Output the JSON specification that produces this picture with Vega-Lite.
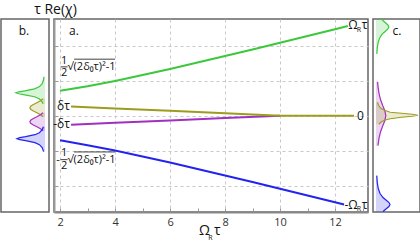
{
  "$schema": "https://vega.github.io/schema/vega-lite/v6.json",
  "padding": {"left": 0, "right": 0, "top": 2, "bottom": 0},
  "spacing": 5,
  "bounds": "flush",
  "config": {
    "font": "Open Sans",
    "view": {"stroke": "#666", "strokeWidth": 1.5},
    "text": {"color": "#111"}
  },
  "datasets": {
    "lines": [
      {"series": "green", "x": 2, "y": 0.715}, {"series": "green", "x": 3, "y": 0.844}, {"series": "green", "x": 4, "y": 0.997},
      {"series": "green", "x": 5, "y": 1.165}, {"series": "green", "x": 6, "y": 1.341}, {"series": "green", "x": 7, "y": 1.524},
      {"series": "green", "x": 8, "y": 1.711}, {"series": "green", "x": 9, "y": 1.9}, {"series": "green", "x": 10, "y": 2.092},
      {"series": "green", "x": 11, "y": 2.285}, {"series": "green", "x": 12, "y": 2.479}, {"series": "green", "x": 12.47, "y": 2.571},
      {"series": "blue", "x": 2, "y": -0.7}, {"series": "blue", "x": 3, "y": -0.844}, {"series": "blue", "x": 4, "y": -0.997},
      {"series": "blue", "x": 5, "y": -1.165}, {"series": "blue", "x": 6, "y": -1.341}, {"series": "blue", "x": 7, "y": -1.524},
      {"series": "blue", "x": 8, "y": -1.711}, {"series": "blue", "x": 9, "y": -1.9}, {"series": "blue", "x": 10, "y": -2.092},
      {"series": "blue", "x": 11, "y": -2.285}, {"series": "blue", "x": 12, "y": -2.479}, {"series": "blue", "x": 12.33, "y": -2.543},
      {"series": "magenta", "x": 2.4, "y": -0.257}, {"series": "magenta", "x": 4, "y": -0.203}, {"series": "magenta", "x": 6, "y": -0.135},
      {"series": "magenta", "x": 8, "y": -0.068}, {"series": "magenta", "x": 10, "y": 0},
      {"series": "olive", "x": 2.4, "y": 0.266}, {"series": "olive", "x": 4, "y": 0.21}, {"series": "olive", "x": 6, "y": 0.14},
      {"series": "olive", "x": 8, "y": 0.07}, {"series": "olive", "x": 10, "y": 0}, {"series": "olive", "x": 12.69, "y": 0}
    ],
    "dens_b": [
      {"series": "green", "y": 1.114, "d": 0.035}, {"series": "green", "y": 1.0, "d": 0.061}, {"series": "green", "y": 0.914, "d": 0.104},
      {"series": "green", "y": 0.829, "d": 0.208}, {"series": "green", "y": 0.771, "d": 0.374}, {"series": "green", "y": 0.714, "d": 0.72},
      {"series": "green", "y": 0.686, "d": 0.936}, {"series": "green", "y": 0.657, "d": 1.04}, {"series": "green", "y": 0.629, "d": 0.936},
      {"series": "green", "y": 0.6, "d": 0.72}, {"series": "green", "y": 0.543, "d": 0.374}, {"series": "green", "y": 0.486, "d": 0.208},
      {"series": "green", "y": 0.4, "d": 0.104}, {"series": "green", "y": 0.343, "d": 0.072},
      {"series": "olive", "y": 0.486, "d": 0.073}, {"series": "olive", "y": 0.429, "d": 0.161}, {"series": "olive", "y": 0.371, "d": 0.291},
      {"series": "olive", "y": 0.314, "d": 0.432}, {"series": "olive", "y": 0.271, "d": 0.511}, {"series": "olive", "y": 0.229, "d": 0.54},
      {"series": "olive", "y": 0.186, "d": 0.511}, {"series": "olive", "y": 0.143, "d": 0.432}, {"series": "olive", "y": 0.086, "d": 0.291},
      {"series": "olive", "y": 0.029, "d": 0.161}, {"series": "olive", "y": -0.029, "d": 0.073},
      {"series": "magenta", "y": 0.086, "d": 0.073}, {"series": "magenta", "y": 0.029, "d": 0.161}, {"series": "magenta", "y": -0.029, "d": 0.291},
      {"series": "magenta", "y": -0.086, "d": 0.432}, {"series": "magenta", "y": -0.129, "d": 0.511}, {"series": "magenta", "y": -0.171, "d": 0.54},
      {"series": "magenta", "y": -0.214, "d": 0.511}, {"series": "magenta", "y": -0.257, "d": 0.432}, {"series": "magenta", "y": -0.314, "d": 0.291},
      {"series": "magenta", "y": -0.371, "d": 0.161}, {"series": "magenta", "y": -0.429, "d": 0.073},
      {"series": "blue", "y": -0.314, "d": 0.059}, {"series": "blue", "y": -0.4, "d": 0.1}, {"series": "blue", "y": -0.486, "d": 0.2},
      {"series": "blue", "y": -0.543, "d": 0.36}, {"series": "blue", "y": -0.6, "d": 0.692}, {"series": "blue", "y": -0.629, "d": 0.9},
      {"series": "blue", "y": -0.657, "d": 1.0}, {"series": "blue", "y": -0.686, "d": 0.9}, {"series": "blue", "y": -0.714, "d": 0.692},
      {"series": "blue", "y": -0.771, "d": 0.36}, {"series": "blue", "y": -0.829, "d": 0.2}, {"series": "blue", "y": -0.914, "d": 0.1},
      {"series": "blue", "y": -1.029, "d": 0.05}
    ],
    "dens_c": [
      {"series": "green", "y": 2.771, "d": 0.2}, {"series": "green", "y": 2.714, "d": 0.265},
      {"series": "green", "y": 2.657, "d": 0.347}, {"series": "green", "y": 2.6, "d": 0.425}, {"series": "green", "y": 2.543, "d": 0.46},
      {"series": "green", "y": 2.486, "d": 0.425}, {"series": "green", "y": 2.429, "d": 0.347}, {"series": "green", "y": 2.371, "d": 0.265},
      {"series": "green", "y": 2.314, "d": 0.2}, {"series": "green", "y": 2.229, "d": 0.133}, {"series": "green", "y": 2.114, "d": 0.082},
      {"series": "green", "y": 1.971, "d": 0.05}, {"series": "green", "y": 1.771, "d": 0.029},
      {"series": "magenta", "y": 0.971, "d": 0.057}, {"series": "magenta", "y": 0.8, "d": 0.078}, {"series": "magenta", "y": 0.629, "d": 0.111},
      {"series": "magenta", "y": 0.457, "d": 0.164}, {"series": "magenta", "y": 0.286, "d": 0.242}, {"series": "magenta", "y": 0.143, "d": 0.315},
      {"series": "magenta", "y": 0, "d": 0.35}, {"series": "magenta", "y": -0.143, "d": 0.315}, {"series": "magenta", "y": -0.286, "d": 0.242},
      {"series": "magenta", "y": -0.457, "d": 0.164}, {"series": "magenta", "y": -0.629, "d": 0.111}, {"series": "magenta", "y": -0.857, "d": 0.07},
      {"series": "olive", "y": 0.386, "d": 0.053}, {"series": "olive", "y": 0.3, "d": 0.088}, {"series": "olive", "y": 0.214, "d": 0.17},
      {"series": "olive", "y": 0.157, "d": 0.3}, {"series": "olive", "y": 0.1, "d": 0.507}, {"series": "olive", "y": 0.071, "d": 0.915},
      {"series": "olive", "y": 0.043, "d": 1.293}, {"series": "olive", "y": 0.014, "d": 1.5}, {"series": "olive", "y": -0.014, "d": 1.293},
      {"series": "olive", "y": -0.043, "d": 0.915}, {"series": "olive", "y": -0.086, "d": 0.507}, {"series": "olive", "y": -0.129, "d": 0.3},
      {"series": "olive", "y": -0.186, "d": 0.17}, {"series": "olive", "y": -0.243, "d": 0.107},
      {"series": "blue", "y": -1.714, "d": 0.028}, {"series": "blue", "y": -1.914, "d": 0.046}, {"series": "blue", "y": -2.086, "d": 0.08},
      {"series": "blue", "y": -2.229, "d": 0.144}, {"series": "blue", "y": -2.343, "d": 0.25}, {"series": "blue", "y": -2.429, "d": 0.377},
      {"series": "blue", "y": -2.486, "d": 0.462}, {"series": "blue", "y": -2.543, "d": 0.5}, {"series": "blue", "y": -2.6, "d": 0.462},
      {"series": "blue", "y": -2.657, "d": 0.377}, {"series": "blue", "y": -2.743, "d": 0.25}
    ]
  },
  "hconcat": [
    {
      "width": 48, "height": 193,
      "data": {"name": "dens_b"},
      "layer": [
        {
          "mark": {"type": "area", "orient": "horizontal", "fillOpacity": 0.2},
          "encoding": {
            "y": {"field": "y", "type": "quantitative", "scale": {"domain": [-2.757, 2.771], "nice": false, "zero": false}, "axis": null},
            "x": {"field": "d", "type": "quantitative", "stack": null, "scale": {"domain": [-0.143, 1.571], "nice": false, "reverse": true}, "axis": null},
            "x2": {"datum": 0},
            "fill": {"field": "series", "type": "nominal", "legend": null, "scale": {"domain": ["green", "olive", "magenta", "blue"], "range": ["#3cc83c", "#9c9c1e", "#a030c0", "#2323f0"]}}
          }
        },
        {
          "mark": {"type": "line", "strokeWidth": 1.2, "clip": true},
          "encoding": {
            "y": {"field": "y", "type": "quantitative"},
            "x": {"field": "d", "type": "quantitative"},
            "color": {"field": "series", "type": "nominal", "legend": null, "scale": {"domain": ["green", "olive", "magenta", "blue"], "range": ["#3cc83c", "#9c9c1e", "#a030c0", "#2323f0"]}},
            "order": {"field": "y", "type": "quantitative"}
          }
        },
        {
          "data": {"values": [{"label": "b.", "d": 0.75, "y": 2.43}]},
          "mark": {"type": "text", "fontSize": 12, "color": "#111"},
          "encoding": {"text": {"field": "label"}, "x": {"field": "d", "type": "quantitative"}, "y": {"field": "y", "type": "quantitative"}}
        }
      ]
    },
    {
      "width": 314, "height": 193,
      "title": {"text": "τ Re(χ)", "anchor": "start", "dx": -19, "fontSize": 14, "fontWeight": "normal", "offset": 2, "color": "#111", "font": "Open Sans"},
      "encoding": {
        "x": {"field": "x", "type": "quantitative", "scale": {"domain": [1.78, 13.2], "nice": false, "zero": false},
          "axis": {"values": [2, 3, 4, 5, 6, 7, 8, 9, 10, 11, 12, 13],
            "labelExpr": "datum.value % 2 === 0 ? datum.label : ''",
            "grid": true, "gridDash": [3, 3], "gridColor": "#c8c8c8",
            "gridOpacity": {"condition": {"test": "datum.value % 2 === 0", "value": 1}, "value": 0},
            "tickSize": -4, "tickColor": "#999", "domainColor": "#888", "domainWidth": 2,
            "labelFontSize": 11, "labelColor": "#333", "labelPadding": 8,
            "title": null}},
        "y": {"field": "y", "type": "quantitative", "scale": {"domain": [-2.757, 2.771], "nice": false, "zero": false},
          "axis": {"values": [-2, -1, 0, 1, 2], "labels": false, "grid": true, "gridDash": [3, 3], "gridColor": "#c8c8c8",
            "tickSize": -4, "tickColor": "#999", "domainColor": "#999", "domainWidth": 2, "title": null}}
      },
      "layer": [
        {
          "data": {"name": "lines"},
          "mark": {"type": "line", "strokeWidth": 2},
          "encoding": {
            "color": {"field": "series", "type": "nominal", "legend": null, "scale": {"domain": ["green", "olive", "magenta", "blue"], "range": ["#3cc83c", "#9c9c1e", "#a030c0", "#2323f0"]}},
            "order": {"field": "x", "type": "quantitative"}
          }
        },
        {
          "data": {"values": [{"label": "δτ", "x": 2.36, "y": 0.27}, {"label": "-δτ", "x": 2.36, "y": -0.24}]},
          "mark": {"type": "text", "align": "right", "fontSize": 12},
          "encoding": {"text": {"field": "label"}}
        },
        {
          "data": {"values": [
            {"label": "0", "x": 12.8, "y": 0},
            {"label": "a.", "x": 2.33, "y": 2.43}
          ]},
          "mark": {"type": "text", "align": "left", "fontSize": 12},
          "encoding": {"text": {"field": "label"}}
        },
        {
          "data": {"values": [
            {"label": "Ω", "x": 12.65, "y": 2.6},
            {"label": "τ", "x": 13.08, "y": 2.6},
            {"label": "-", "x": 12.42, "y": -2.543},
            {"label": "Ω", "x": 12.65, "y": -2.543},
            {"label": "τ", "x": 13.08, "y": -2.543}
          ]},
          "mark": {"type": "text", "align": "center", "fontSize": 12},
          "encoding": {"text": {"field": "label"}}
        },
        {
          "data": {"values": [
            {"label": "R", "x": 12.87, "y": 2.45},
            {"label": "R", "x": 12.87, "y": -2.68},
            {"label": "R", "x": 7.47, "y": -3.5}
          ]},
          "mark": {"type": "text", "align": "center", "fontSize": 7},
          "encoding": {"text": {"field": "label"}}
        },
        {
          "data": {"values": [
            {"label": "Ω", "x": 7.25, "y": -3.29},
            {"label": "τ", "x": 7.72, "y": -3.29}
          ]},
          "mark": {"type": "text", "align": "center", "fontSize": 14},
          "encoding": {"text": {"field": "label"}}
        },
        {
          "data": {"values": [
            {"label": "√(2δ₀τ)²-1", "x": 2.273, "y": 1.4},
            {"label": "√(2δ₀τ)²-1", "x": 2.273, "y": -1.257}
          ]},
          "mark": {"type": "text", "align": "left", "fontSize": 11},
          "encoding": {"text": {"field": "label"}}
        },
        {
          "data": {"values": [
            {"label": "1", "x": 2.145, "y": 1.58},
            {"label": "2", "x": 2.145, "y": 1.22},
            {"label": "1", "x": 2.145, "y": -1.077},
            {"label": "2", "x": 2.145, "y": -1.437},
            {"label": "-", "x": 1.93, "y": -1.257}
          ]},
          "mark": {"type": "text", "align": "center", "fontSize": 11},
          "encoding": {"text": {"field": "label"}}
        },
        {
          "data": {"values": [
            {"x": 2.018, "x2": 2.273, "y": 1.4},
            {"x": 2.509, "x2": 4.0, "y": 1.62},
            {"x": 2.018, "x2": 2.273, "y": -1.257},
            {"x": 2.509, "x2": 4.0, "y": -1.037}
          ]},
          "mark": {"type": "rule", "strokeWidth": 0.8, "color": "#111"},
          "encoding": {"x2": {"field": "x2"}}
        }
      ]
    },
    {
      "width": 47, "height": 193,
      "data": {"name": "dens_c"},
      "layer": [
        {
          "mark": {"type": "area", "orient": "horizontal", "fillOpacity": 0.2},
          "encoding": {
            "y": {"field": "y", "type": "quantitative", "scale": {"domain": [-2.757, 2.771], "nice": false, "zero": false}, "axis": null},
            "x": {"field": "d", "type": "quantitative", "stack": null, "scale": {"domain": [-0.107, 1.571], "nice": false}, "axis": null},
            "x2": {"datum": 0},
            "fill": {"field": "series", "type": "nominal", "legend": null, "scale": {"domain": ["green", "magenta", "olive", "blue"], "range": ["#3cc83c", "#a030c0", "#9c9c1e", "#2323f0"]}}
          }
        },
        {
          "mark": {"type": "line", "strokeWidth": 1.2, "clip": true},
          "encoding": {
            "y": {"field": "y", "type": "quantitative"},
            "x": {"field": "d", "type": "quantitative"},
            "color": {"field": "series", "type": "nominal", "legend": null, "scale": {"domain": ["green", "magenta", "olive", "blue"], "range": ["#3cc83c", "#a030c0", "#9c9c1e", "#2323f0"]}},
            "order": {"field": "y", "type": "quantitative"}
          }
        },
        {
          "data": {"values": [{"label": "c.", "d": 0.75, "y": 2.43}]},
          "mark": {"type": "text", "fontSize": 12, "color": "#111"},
          "encoding": {"text": {"field": "label"}, "x": {"field": "d", "type": "quantitative"}, "y": {"field": "y", "type": "quantitative"}}
        }
      ]
    }
  ]
}
